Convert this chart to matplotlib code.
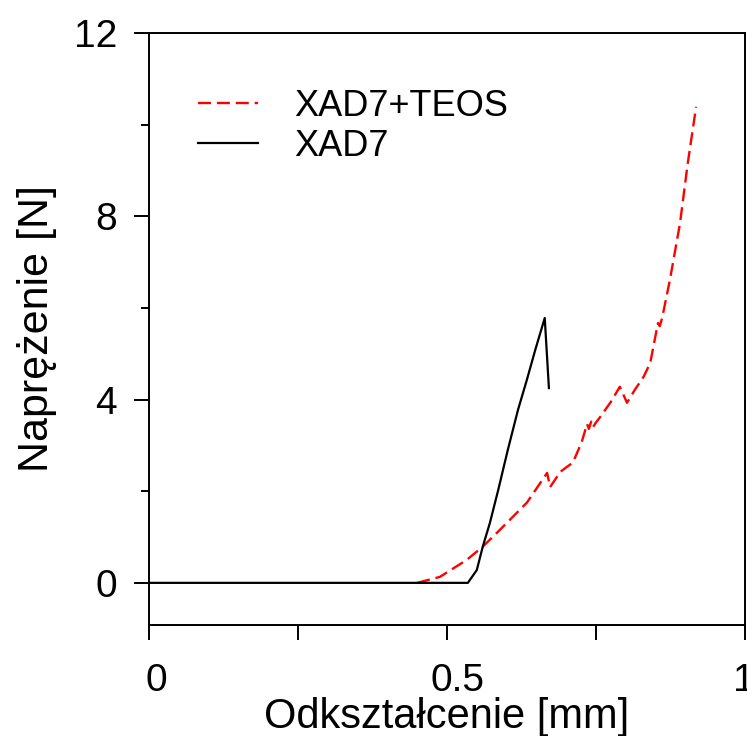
import matplotlib.pyplot as plt
import matplotlib.transforms as mtransforms
from matplotlib.ticker import MultipleLocator

plt.rcParams['font.family'] = ['Liberation Sans', 'DejaVu Sans']

# XAD7 (czarna linia)
xad7_x = [0.0, 0.535, 0.550, 0.560, 0.572, 0.586, 0.602, 0.619, 0.634, 0.648, 0.664, 0.671]
xad7_y = [0.0, 0.0, 0.28, 0.79, 1.31, 2.03, 2.90, 3.77, 4.43, 5.08, 5.78, 4.25]

# XAD7+TEOS (czerwona przerywana)
teos_x = [0.450, 0.488, 0.533, 0.560, 0.589, 0.634, 0.668, 0.673,
          0.690, 0.701, 0.711, 0.726, 0.735, 0.738, 0.742, 0.745, 0.750, 0.757,
          0.775, 0.790, 0.802, 0.815, 0.830, 0.841, 0.854, 0.857, 0.861, 0.874,
          0.891, 0.904, 0.918]
teos_y = [0.0, 0.13, 0.50, 0.79, 1.16, 1.75, 2.40, 2.09,
          2.42, 2.53, 2.62, 3.07, 3.47, 3.36, 3.52, 3.40, 3.50, 3.62,
          3.95, 4.28, 3.93, 4.21, 4.50, 4.80, 5.67, 5.60, 5.78, 6.61,
          7.85, 9.16, 10.39]

x_ticks = [0, 0.25, 0.5, 0.75, 1.0]
x_labels = ['0', '', '0.5', '', '1']
y_ticks = [0, 4, 8, 12]

fig = plt.figure(figsize=(7.47, 7.36), dpi=100)
ax = fig.add_axes([0.1995, 0.1508, 0.7978, 0.8044])

ax.plot(teos_x, teos_y, color='red', linestyle=(0, (5.5, 2.5)), linewidth=1.7,
        label='XAD7+TEOS')
ax.plot(xad7_x, xad7_y, color='black', linewidth=1.6, label='XAD7')

ax.set_xlim(0, 1)
ax.set_ylim(-0.92, 12)
ax.set_xticks(x_ticks)
ax.set_xticklabels(x_labels)
ax.set_yticks(y_ticks)
ax.yaxis.set_minor_locator(MultipleLocator(2))

ax.tick_params(axis='both', direction='out', width=1.4, labelsize=28)
ax.tick_params(axis='x', length=11, pad=16)
ax.tick_params(axis='y', which='major', length=11, pad=12)
ax.tick_params(axis='y', which='minor', length=6, width=1.4)

# etykiety osi x przesunięte jak w oryginale (w pikselach)
shifts = [7, 0, 10, 0, -1]
for lab, dx in zip(ax.get_xticklabels(), shifts):
    off = mtransforms.ScaledTranslation(dx / 100, 0, fig.dpi_scale_trans)
    lab.set_transform(lab.get_transform() + off)

for s in ax.spines.values():
    s.set_linewidth(1.4)

ax.set_xlabel('Odkształcenie [mm]', fontsize=30, labelpad=-1)
ax.set_ylabel('Naprężenie [N]', fontsize=31, labelpad=12)

ax.legend(loc='upper left', bbox_to_anchor=(0.082, 0.906), frameon=False,
          borderpad=0, borderaxespad=0,
          fontsize=26, handlelength=1.67, handletextpad=1.0, labelspacing=0.14)

fig.savefig('out.png', dpi=100)
